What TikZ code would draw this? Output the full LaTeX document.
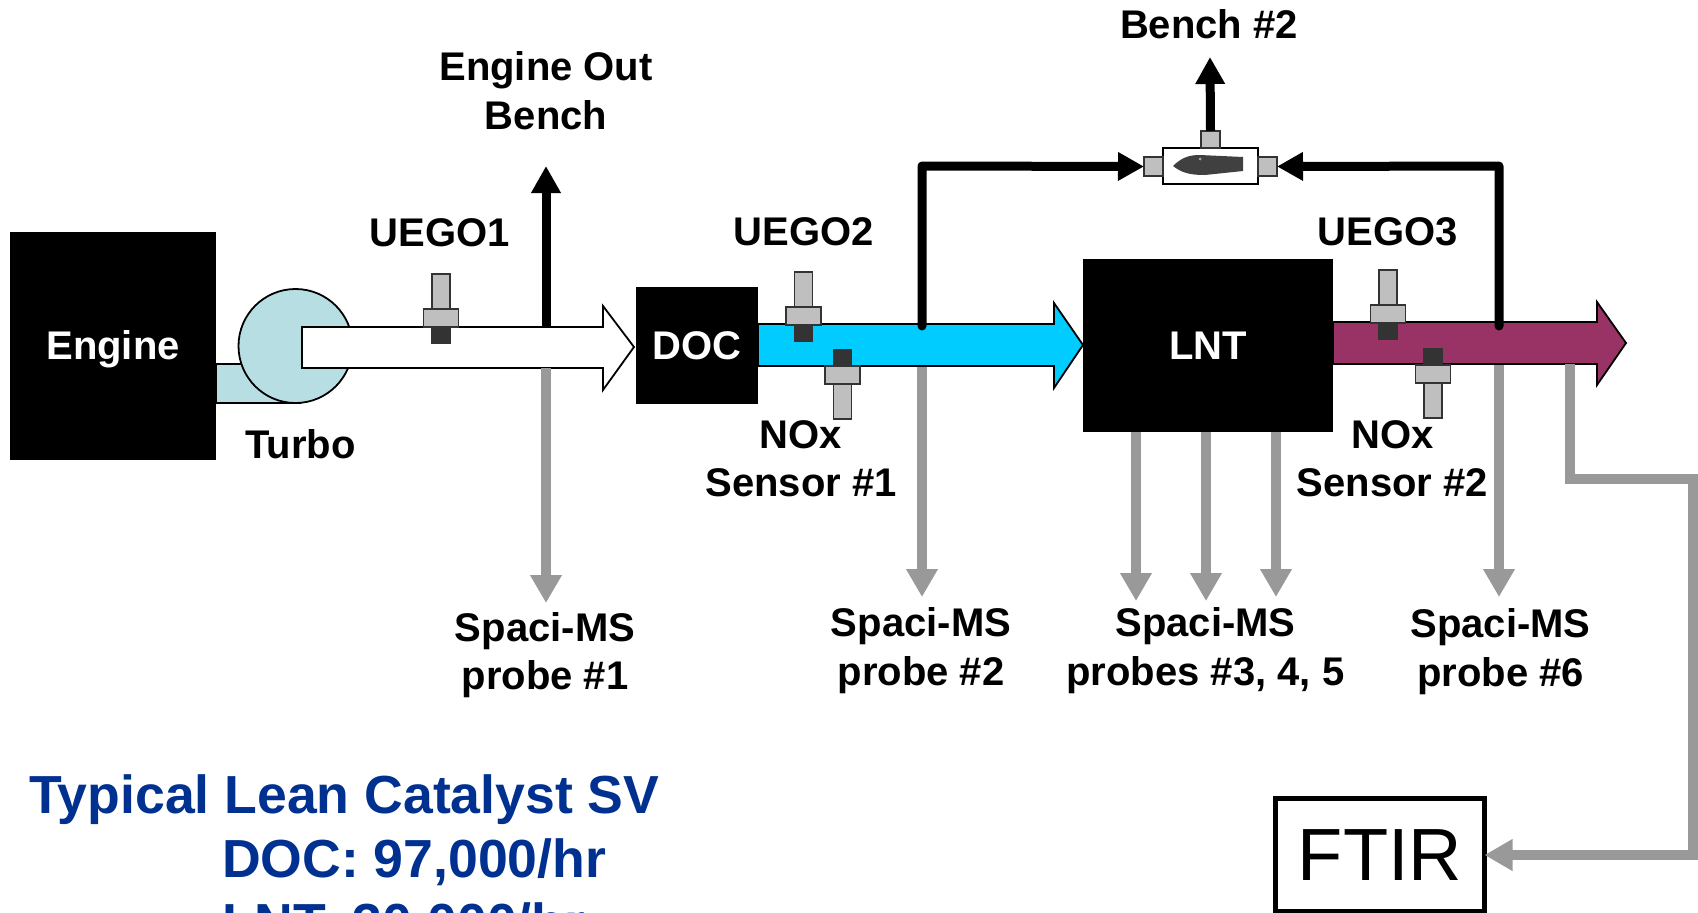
\documentclass[tikz,border=0pt]{standalone}
\usepackage{fontspec}
\setmainfont{Liberation Sans}
\usepackage{tikz}
\usetikzlibrary{arrows.meta}
\usetikzlibrary{calc}
\definecolor{pipeblue}{HTML}{00CCFF}
\definecolor{pipeplum}{HTML}{993366}
\definecolor{turboblue}{HTML}{B7DFE3}
\definecolor{probegray}{HTML}{999999}
\definecolor{svblue}{HTML}{003090}
\tikzset{
  every node/.style={inner sep=0pt,outer sep=0pt},
  blackbox/.style={fill=black,text=white,text height=27pt,text depth=0pt,font=\fontsize{40}{48}\bfseries\selectfont,align=center},
  labeltext/.style={font=\fontsize{40}{48.5}\bfseries\selectfont,align=center},
  svtext/.style={anchor=base west,text=svblue,font=\fontsize{53.6}{64}\bfseries\selectfont},
  pipe/.style={draw=black,line width=1.8pt,line join=miter},
  benchline/.style={line width=9pt,-{Triangle[length=27pt,width=28pt]}},
  feedline/.style={line width=9pt,line cap=round,line join=round,-{Triangle[length=26pt,width=27pt]}},
  probeline/.style={draw=probegray,line width=10pt,-{Triangle[length=28pt,width=30pt,fill=probegray]}},
  sensorpart/.style={draw=black!80,line width=1.4pt,fill=black!25},
}
\begin{document}
\begin{tikzpicture}[x=1pt,y=-1pt]
\path[use as bounding box,clip] (0,0) rectangle (1698,913);
% turbo
\draw[pipe,fill=turboblue] (216,364) rectangle (300,403);
\node (turbo) at (295.5,346) [circle,draw=black,line width=1.8pt,fill=turboblue,minimum size=114pt] {};
\node (engine) at (113,346) [blackbox,minimum width=206pt,minimum height=228pt] {Engine};
\node (doc) at (697,345.5) [blackbox,minimum width=122pt,minimum height=117pt] {DOC};
\node (lnt) at (1208,345.5) [blackbox,minimum width=250pt,minimum height=173pt] {LNT};
\node (ftir) at (1380,855) [draw=black,line width=5pt,fill=white,minimum width=209pt,minimum height=113pt,font=\fontsize{74}{80}\selectfont] {FTIR};
% pipes
\draw[pipe,fill=white] (302,327) -- (603,327) -- (603,306) -- (634,347) -- (603,390) -- (603,368) -- (302,368) -- cycle;
\draw[pipe,fill=pipeblue] (758,324) -- (1054,324) -- (1054,303) -- (1083,345) -- (1054,388) -- (1054,366) -- (758,366) -- cycle;
\draw[pipe,fill=pipeplum] (1333,322) -- (1597,322) -- (1597,302) -- (1626,343) -- (1597,385) -- (1597,364) -- (1333,364) -- cycle;
% sensors
\foreach \sx/\sy/\sd in {441/318/1, 803.5/316/1, 1388/314/1, 842.5/375/-1, 1433/374/-1} {
	\draw[sensorpart] (\sx-9,\sy-\sd*9) rectangle (\sx+9,\sy-\sd*44);
	\draw[sensorpart] (\sx-17.5,\sy-\sd*9) rectangle (\sx+17.5,\sy+\sd*9);
	\draw[sensorpart,fill=black!80] (\sx-9,\sy+\sd*9) rectangle (\sx+9,\sy+\sd*25);
}
% bench #2 manifold
\node (benchbox) at (1210.5,166) [draw=black,line width=1.6pt,fill=white,minimum width=95pt,minimum height=36pt] {};
\node (benchleft) at (1153.5,166.5) [sensorpart,minimum width=19pt,minimum height=19pt] {};
\node (benchright) at (1267.5,166.5) [sensorpart,minimum width=19pt,minimum height=19pt] {};
\node (benchtop) at (1210.5,139.5) [sensorpart,minimum width=19pt,minimum height=17pt] {};
\fill[black!75] (1173,166) .. controls (1182,157) and (1190,155) .. (1200,155) -- (1243,157) -- (1243,171) -- (1205,175) .. controls (1190,175) and (1182,173) .. (1173,166) -- cycle;
\fill[black!35] (1200,159) circle (1.5pt);
% taps and free ends
\coordinate (tap1up) at (546,327);
\coordinate (tap1) at (546,368);
\coordinate (tap2up) at (922,326);
\coordinate (tap2) at (922,367);
\coordinate (tap6up) at (1499,326);
\coordinate (tap6) at (1499,365);
\coordinate (tapftir) at (1570,364);
\coordinate (ftirbend) at (1570,479);
\coordinate (ftirside) at (1693,479);
% labels
\node (uego1) at (439.5,233) [labeltext] {UEGO1};
\node (uego2) at (804,232) [labeltext] {UEGO2};
\node (uego3) at (1388,232) [labeltext] {UEGO3};
\node (engineout) at (546,90.5) [labeltext] {Engine Out\\Bench};
\node (turbolabel) at (300.5,444) [labeltext] {Turbo};
\node (nox1) at (801,458.5) [labeltext] {NOx\\Sensor \#1};
\node (nox2) at (1392.5,458.5) [labeltext] {NOx\\Sensor \#2};
\node (bench2) at (1209,24) [labeltext] {Bench \#2};
\node (probe1) at (545,655) [labeltext] {Spaci-MS\\probe \#1};
\node (probe2) at (921,650.5) [labeltext] {Spaci-MS\\probe \#2};
\node (probe345) at (1205.5,650.5) [labeltext] {Spaci-MS\\probes \#3, 4, 5};
\node (probe6) at (1500.5,651.5) [labeltext] {Spaci-MS\\probe \#6};
\node (svhead) at (29,813) [svtext] {Typical Lean Catalyst SV};
\node (svdoc) at (222,877) [svtext] {DOC: 97,000/hr};
\node (svlnt) at (222,941) [svtext] {LNT: 30,000/hr};
% bench lines
\draw[benchline] (tap1up) -- (546,166);
\draw[feedline] (tap2up) -- (922,166) -- (benchleft.west);
\draw[feedline] (tap6up) -- (1499,166) -- (benchright.east);
\draw[benchline] (benchtop.north) -- (1210,57);
% probe lines
\draw[probeline] (tap1) -- (546,603);
\draw[probeline] (tap2) -- (922,597);
\draw[probeline] (lnt.south -| 1136,0) -- (1136,601);
\draw[probeline] (lnt.south -| 1206,0) -- (1206,601);
\draw[probeline] (lnt.south -| 1276,0) -- (1276,597);
\draw[probeline] (tap6) -- (1499,597);
\draw[probeline] (tapftir) -- (ftirbend) -- (ftirside) -- (ftirside |- ftir.east) -- (ftir.east);
\end{tikzpicture}
\end{document}
